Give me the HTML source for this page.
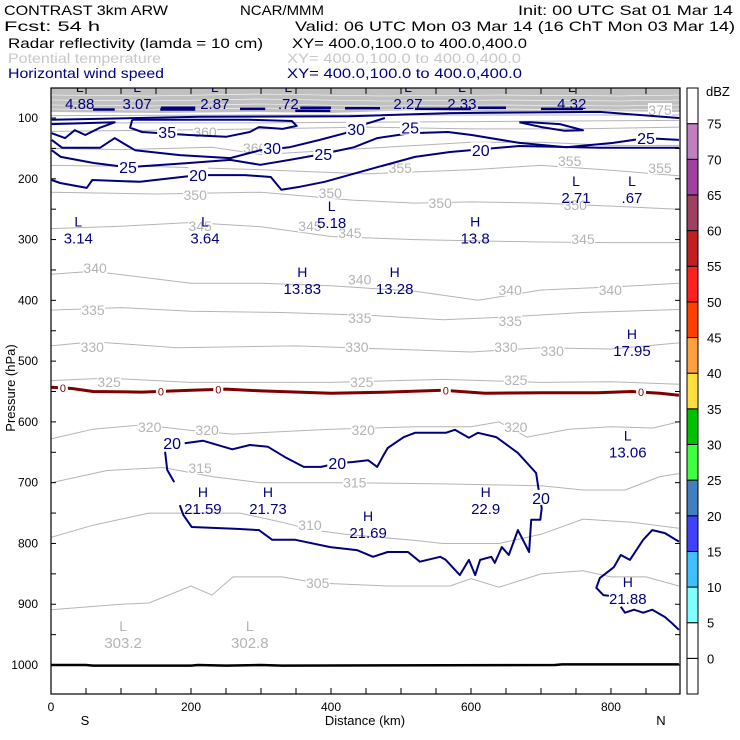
<!DOCTYPE html>
<html><head><meta charset="utf-8">
<style>
html,body{margin:0;padding:0;background:#fff;}
svg{display:block;font-family:"Liberation Sans",sans-serif;}
</style></head>
<body>
<svg id="chart" width="740" height="740" viewBox="0 0 740 740" xmlns="http://www.w3.org/2000/svg">
<g font-size="14">
<text x="4" y="15" textLength="164" lengthAdjust="spacingAndGlyphs">CONTRAST  3km ARW</text>
<text x="240" y="15" textLength="84" lengthAdjust="spacingAndGlyphs">NCAR/MMM</text>
<text x="518" y="15" textLength="215" lengthAdjust="spacingAndGlyphs">Init: 00 UTC Sat 01 Mar 14</text>
<text x="4" y="31" textLength="96" lengthAdjust="spacingAndGlyphs">Fcst:    54 h</text>
<text x="295" y="31" textLength="440" lengthAdjust="spacingAndGlyphs">Valid: 06 UTC Mon 03 Mar 14 (16 ChT Mon 03 Mar 14)</text>
<text x="8" y="48" textLength="255" lengthAdjust="spacingAndGlyphs">Radar reflectivity (lamda = 10 cm)</text>
<text x="292" y="48" textLength="235" lengthAdjust="spacingAndGlyphs">XY= 400.0,100.0 to 400.0,400.0</text>
<text x="8" y="63" fill="#c8c8c8" textLength="153" lengthAdjust="spacingAndGlyphs">Potential temperature</text>
<text x="287" y="63" fill="#c8c8c8" textLength="234" lengthAdjust="spacingAndGlyphs">XY= 400.0,100.0 to 400.0,400.0</text>
<text x="8" y="78" fill="#000080" textLength="156" lengthAdjust="spacingAndGlyphs">Horizontal wind speed</text>
<text x="287" y="78" fill="#000080" textLength="235" lengthAdjust="spacingAndGlyphs">XY= 400.0,100.0 to 400.0,400.0</text>
</g>
<defs><clipPath id="plotclip"><rect x="51" y="88" width="629" height="606"/></clipPath></defs>
<g id="plot" clip-path="url(#plotclip)"></g>
<g id="axes"></g>
<g id="cbar"></g>
</svg>
<script>
// ---------- axis data ----------
const pressureTicks = [100,200,300,400,500,600,700,800,900,1000];
const distanceTicks = [0,200,400,600,800];
const cbarLevels = [0,5,10,15,20,25,30,35,40,45,50,55,60,65,70,75];
const cbarColors = ['#ffffff','#ffffff','#80ffff','#40c0ff','#4040ff','#4080c0','#40ff40','#00c000','#ffe040','#ffa040','#ff4000','#ff2020','#c02020','#a04060','#a040a0','#c080c0','#ffffff'];

// ---------- potential temperature contours (km, hPa) ----------
const thetaLevels = [305,310,315,320,325,330,335,340,345,350,355,360,365,370,375];
const thetaKm = [
 [0,100,140,200,230,260,330,380,480,570,600,640,700,760,800,850,897],
 [0,60,140,270,330,370,420,520,560,640,700,760,830,897],
 [0,80,160,230,300,430,560,700,760,820,870,897],
 [0,60,130,200,260,400,520,600,640,680,740,800,860,897],
 [0,80,200,400,560,700,800,897],
 [0,60,180,350,480,600,700,800,897],
 [0,100,200,330,460,560,640,760,897],
 [0,60,200,300,400,520,610,700,800,897],
 [0,100,200,300,400,520,600,700,800,897],
 [0,150,300,430,520,600,700,800,897],
 [0,150,300,450,600,700,800,897],
 [0,100,230,300,450,600,700,800,897],
 [0,150,300,450,600,750,897],
 [0,300,600,897],
 [0,300,600,897]
];
const thetaHpa = [
 [909,900,898,870,885,855,855,865,870,870,858,872,850,845,855,855,870],
 [790,770,750,750,765,777,785,795,800,800,785,760,765,775],
 [700,680,675,690,700,700,702,705,712,712,690,685],
 [628,612,605,614,620,612,608,608,600,625,612,608,610,600],
 [532,528,535,535,530,535,534,538],
 [475,468,478,475,480,485,478,480,470],
 [416,412,418,420,425,432,428,420,415],
 [357,352,372,372,376,385,400,383,378,372],
 [282,278,272,279,295,300,302,304,305,305],
 [222,225,222,235,240,238,240,245,250],
 [178,180,185,192,185,178,186,195],
 [150,152,148,160,150,140,140,145,145],
 [122,120,118,115,118,118,115],
 [108,108,106,104],
 [96,95,95,95]
];
const thetaLabelText = ['305','310','315','315','320','320','320','320','325','325','325','330','330','330','330','335','335','335','340','340','340','340','345','345','345','345','350','350','350','350','355','355','355','360','360','375'];
const thetaLabelKm = [381,370,213,434,141,223,446,664,83,444,664,59,437,650,716,60,441,656,63,441,656,799,213,370,427,760,206,399,556,749,499,741,870,220,291,870];
const thetaLabelHpa = [865,770,676,700,608,613,613,608,534,534,531,477,477,477,483,416,429,434,347,366,383,383,278,278,289,299,227,223,240,243,182,171,182,123,149,87];

// ---------- wind speed contours (km, hPa) ----------
const windLevels = [20,25,30,35,35,30,40,20,20,20,20];
const windKm = [
 [1,13,51,59,127,210,277,314,329,356,391,466,520,570,669,784,897],
 [1,14,61,109,197,256,299,341,389,433,466,513,567,601,669,736,803,850,897],
 [1,16,70,91,120,184,256,299,341,384,420,449,477],
 [116,113,130,197,250,284,297,331,351,344,284,116],
 [1,91,70,49,34,20,1],
 [669,701,734,760,727,684,669],
 [1,213,427,570,784,897],
 [191,217,259,284,310,336,361,386,409,431,453,466,473,481,504,520,564,577,597,610,636,667,693,696,701,699,686,683,667,654,644,634,629,613,606,597,584,564,556,527,510,481,460,437,399,349,316,297,266,201,189,184],
 [163,166,176],
 [897,877,859,846,827,814,804,784,779,789,797],
 [814,820,833,846,859,877,887,897]
];
const windHpa = [
 [202,207,215,202,205,194,194,197,218,213,205,181,164,156,146,149,149],
 [153,164,174,181,174,169,177,169,159,148,133,125,123,128,141,148,141,133,136],
 [136,149,149,133,153,161,166,153,148,136,125,110,100],
 [103,116,123,128,131,123,115,118,113,105,103,103],
 [110,107,116,128,120,133,125],
 [107,115,121,120,110,107,107],
 [103,98,97,92,90,100],
 [635,631,645,638,641,659,674,674,668,666,663,674,659,643,625,618,618,613,626,618,625,651,684,707,742,761,761,814,778,819,806,832,822,827,852,827,852,827,822,830,814,814,822,811,806,794,794,778,776,773,753,737],
 [649,679,699],
 [797,783,778,794,827,819,839,857,873,885,886],
 [904,914,909,914,909,921,931,942]
];
const windTopSegKm = [[60,91],[156,206],[157,206],[270,306],[349,399],[356,400],[420,470],[520,600],[610,650],[700,760]];
const windTopSegHpa = [[86,86],[86,86],[83,83],[85,85],[88,88],[83,83],[84,84],[85,85],[83,83],[85,85]];
const windLabelText = ['35','30','30','25','25','25','25','20','20','20','20','20'];
const windLabelKm = [166,316,436,110,389,513,850,210,614,173,409,700];
const windLabelHpa = [123,149,118,181,159,116,133,194,153,635,668,725];

// ---------- freezing level (0 C) ----------
const zeroKm = [0,30,60,130,200,250,300,400,480,560,620,700,780,830,870,897];
const zeroHpa = [543,545,550,551,548,546,549,553,551,548,553,552,552,550,553,556];
const zeroLabelKm = [17,157,239,564,843];

// ---------- surface ----------
const sfcKm = [0,50,60,200,210,250,300,330,720,730,897];
const sfcHpa = [1000,1000,1001,1001,1000,1001,1000,1001,1000,999,999];

// ---------- extrema (H / L) ----------
const extType = ['L','L','L','L','L','L','L','L','L','L','L','L','H','H','H','H','L','H','H','H','H','H'];
const extVal = ['4.88','3.07','2.87','.72','2.27','2.33','4.32','2.71','.67','3.14','3.64','5.18','13.8','13.83','13.28','17.95','13.06','21.59','21.73','22.9','21.69','21.88'];
const extKm = [41,123,234,339,510,587,744,750,830,39,220,401,606,359,491,830,824,217,310,621,453,824];
const extHpa = [75,75,75,75,75,75,75,230,230,297,297,271,297,380,380,482,649,742,742,742,781,890];
const thetaExtVal = ['303.2','302.8'];
const thetaExtKm = [103,284];
const thetaExtHpa = [962,962];

// ---------- scales ----------
const X0=51, X1=680, Y0=88, Y1=694;
function xs(km){ return X0 + km*(X1-X0)/898.6; }
function ys(p){ return 118 + (p-100)*0.6078; }
const NS='http://www.w3.org/2000/svg';
function mk(tag, attrs, parent){ const e=document.createElementNS(NS,tag); for(const k in attrs) e.setAttribute(k,attrs[k]); parent.appendChild(e); return e; }
function pts(kms, ps){ return kms.map((k,i)=>xs(k).toFixed(1)+','+ys(ps[i]).toFixed(1)).join(' '); }

const plot=document.getElementById('plot');
let bg=mk('rect',{x:X0,y:Y0,width:X1-X0,height:Y1-Y0,fill:'#fff'},plot);


let band=mk('path',{d:'M51,88 L680,88 L680,112 L600,111 L520,113 L420,110 L330,113 L250,112 L160,113 L51,112 Z',fill:'#c0c0c0'},plot);


[95,100,105,109].forEach(function(yy,i){
  let l=mk('polyline',{points:'51,'+yy+' 150,'+(yy+1)+' 260,'+(yy-1)+' 380,'+(yy+1)+' 500,'+yy+' 620,'+(yy+1)+' 680,'+yy,fill:'none',stroke:'#ffffff','stroke-width':0.6},plot);
  
  
});

thetaLevels.forEach(function(lv,i){
  let l=mk('polyline',{points:pts(thetaKm[i],thetaHpa[i]),fill:'none',stroke:'#b4b4b4','stroke-width':1},plot);
  
  
});
thetaLabelText.forEach(function(t,i){
  let x=xs(thetaLabelKm[i]), y=ys(thetaLabelHpa[i]);
  let r=mk('rect',{x:x-12,y:y-7,width:24,height:13,fill:'#fff'},plot);
  
  
  let tx=mk('text',{x:x,y:y+5,'text-anchor':'middle','font-size':14,fill:'#b4b4b4'},plot);
  tx.textContent=t;
  
  
});

let z=mk('polyline',{points:pts(zeroKm,zeroHpa),fill:'none',stroke:'#800000','stroke-width':3},plot);


zeroLabelKm.forEach(function(k,i){
  let hp=zeroHpa[0]; for(let j=1;j<zeroKm.length;j++){ if(zeroKm[j]>=k){ hp=zeroHpa[j-1]+(zeroHpa[j]-zeroHpa[j-1])*(k-zeroKm[j-1])/(zeroKm[j]-zeroKm[j-1]); break; } }
  let x=xs(k), y=ys(hp);
  let r=mk('rect',{x:x-5,y:y-5,width:10,height:10,fill:'#fff'},plot);
  
  
  let tx=mk('text',{x:x,y:y+4,'text-anchor':'middle','font-size':11,fill:'#800000'},plot);
  tx.textContent='0';
  
  
});

let s=mk('polyline',{points:pts(sfcKm,sfcHpa),fill:'none',stroke:'#000','stroke-width':2.5},plot);



windLevels.forEach(function(lv,i){
  let l=mk('polyline',{points:pts(windKm[i],windHpa[i]),fill:'none',stroke:'#00007f','stroke-width':2,'stroke-linejoin':'round'},plot);
  
  
});
windTopSegKm.forEach(function(k,i){
  let l=mk('polyline',{points:pts(k,windTopSegHpa[i]),fill:'none',stroke:'#00007f','stroke-width':2.5},plot);
  
  
});
windLabelText.forEach(function(t,i){
  let x=xs(windLabelKm[i]), y=ys(windLabelHpa[i]);
  let r=mk('rect',{x:x-10,y:y-8,width:20,height:15,fill:'#fff'},plot);
  
  
  let tx=mk('text',{x:x,y:y+6,'text-anchor':'middle','font-size':16,fill:'#00007f'},plot);
  tx.textContent=t;
  
  
});

extType.forEach(function(t,i){
  let x=xs(extKm[i]), y=ys(extHpa[i]);
  let a=mk('text',{x:x,y:y-11,'text-anchor':'middle','font-size':14,fill:'#00007f'},plot);
  a.textContent=t;
  
  
  let b=mk('text',{x:x,y:y+6,'text-anchor':'middle','font-size':15,fill:'#00007f'},plot);
  b.textContent=extVal[i];
  
  
});
thetaExtVal.forEach(function(v,i){
  let x=xs(thetaExtKm[i]), y=ys(thetaExtHpa[i]);
  let a=mk('text',{x:x,y:y-11,'text-anchor':'middle','font-size':14,fill:'#b4b4b4'},plot);
  a.textContent='L';
  
  
  let b=mk('text',{x:x,y:y+6,'text-anchor':'middle','font-size':15,fill:'#b4b4b4'},plot);
  b.textContent=v;
  
  
});

const ax=document.getElementById('axes');
let fr=mk('rect',{x:X0,y:Y0,width:X1-X0,height:Y1-Y0,fill:'none',stroke:'#000','stroke-width':1.2},ax);


for(let p=100;p<=1050;p+=50){
  let y=ys(p); if(y>Y1) break;
  let t1=mk('line',{x1:X0,y1:y,x2:X0+5,y2:y,stroke:'#000'},ax);
  
  
  let t2=mk('line',{x1:X1-5,y1:y,x2:X1,y2:y,stroke:'#000'},ax);
  
  
}
pressureTicks.forEach(function(p){
  let t=mk('text',{x:38,y:ys(p)+4,'text-anchor':'end','font-size':12},ax);
  t.textContent=p;
  
  
});
for(let k=50;k<900;k+=50){
  let x=xs(k);
  let t1=mk('line',{x1:x,y1:Y1,x2:x,y2:Y1-6,stroke:'#000'},ax);
  
  
  let t2=mk('line',{x1:x,y1:Y0,x2:x,y2:Y0+6,stroke:'#000'},ax);
  
  
}
distanceTicks.forEach(function(k){
  let t=mk('text',{x:xs(k),y:711,'text-anchor':'middle','font-size':12},ax);
  t.textContent=k;
  
  
});
let yt=mk('text',{x:0,y:0,'text-anchor':'middle','font-size':13,transform:'translate(15,388) rotate(-90)'},ax);
yt.textContent='Pressure (hPa)';


let xt=mk('text',{x:365,y:725,'text-anchor':'middle','font-size':13},ax);
xt.textContent='Distance (km)';


let sl=mk('text',{x:85,y:725,'text-anchor':'middle','font-size':13},ax);
sl.textContent='S';


let nl=mk('text',{x:661,y:725,'text-anchor':'middle','font-size':13},ax);
nl.textContent='N';



const cb=document.getElementById('cbar');
const BH=(694-88)/cbarColors.length;
cbarColors.forEach(function(c,i){
  let y=694-(i+1)*BH;
  let r=mk('rect',{x:687,y:y,width:11,height:BH,fill:c,stroke:'#000','stroke-width':1},cb);
  
  
});
cbarLevels.forEach(function(v,i){
  let y=694-(i+1)*BH;
  let t=mk('text',{x:707,y:y+5,'font-size':13},cb);
  t.textContent=v;
  
  
});
let u=mk('text',{x:706,y:96,'font-size':13},cb);
u.textContent='dBZ';


</script>
</body></html>
